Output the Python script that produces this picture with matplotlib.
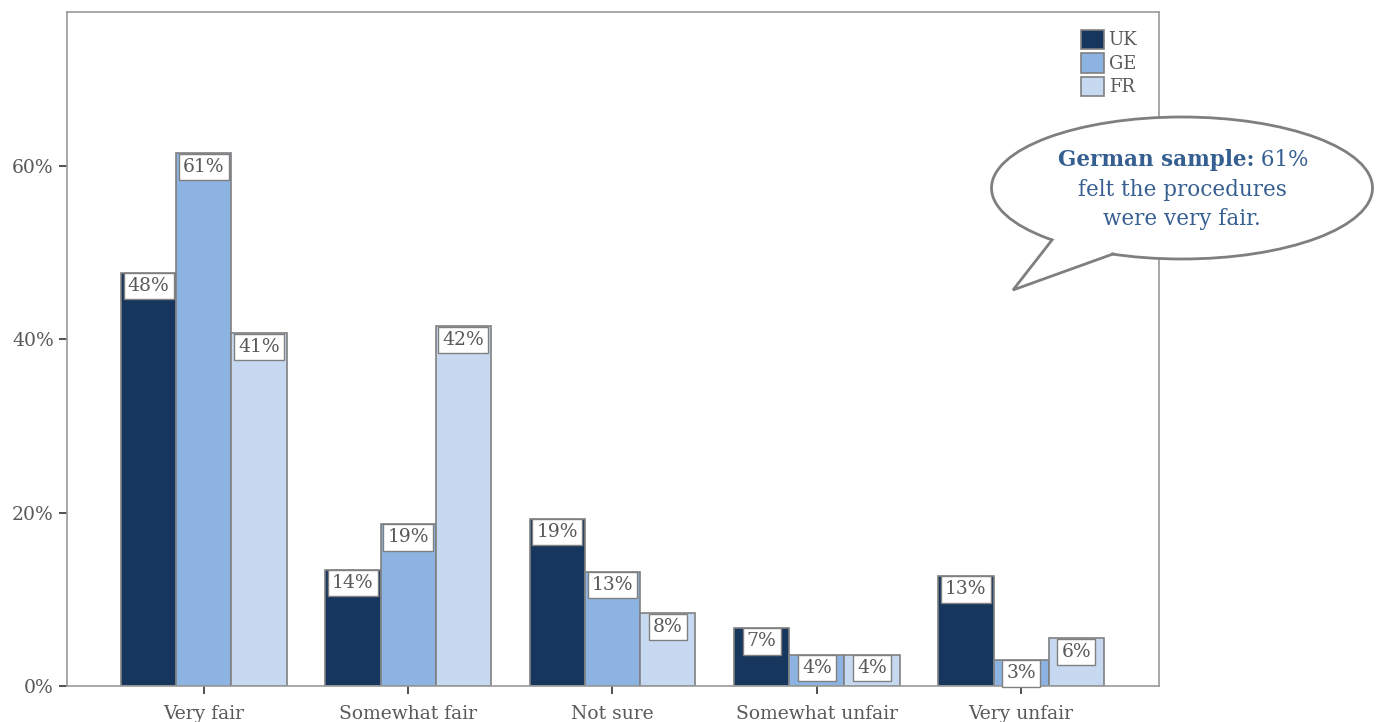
import matplotlib.pyplot as plt
from matplotlib.patches import Ellipse, Polygon
import numpy as np

categories = ["Very fair", "Somewhat fair", "Not sure", "Somewhat unfair", "Very unfair"]
series = ["UK", "GE", "FR"]
uk = [47.7, 13.4, 19.3, 6.7, 12.7]
ge = [61.5, 18.7, 13.2, 3.6, 3.0]
fr = [40.7, 41.5, 8.4, 3.6, 5.5]
uk_lbl = ["48%", "14%", "19%", "7%", "13%"]
ge_lbl = ["61%", "19%", "13%", "4%", "3%"]
fr_lbl = ["41%", "42%", "8%", "4%", "6%"]
colors = ["#17365d", "#8db3e2", "#c6d9f1"]

plt.rcParams['font.family'] = ['DejaVu Serif']
text_grey = "#595959"
edge_grey = "#808080"

fig = plt.figure(figsize=(13.84, 7.22), dpi=100)
ax = fig.add_axes([67/1384, 1 - 686/722, (1159-67)/1384, (686-12)/722])

x = np.arange(len(categories))
w = 0.27
for i, (vals, lbls) in enumerate(zip([uk, ge, fr], [uk_lbl, ge_lbl, fr_lbl])):
    xs = x + (i - 1) * w
    ax.bar(xs, vals, width=w, color=colors[i], edgecolor=edge_grey, linewidth=1.2,
           label=series[i])
    for xi, v, l in zip(xs, vals, lbls):
        ax.annotate(l, (xi, v), xytext=(0, -3.2), textcoords='offset points',
                    ha='center', va='top', fontsize=13.5, color=text_grey,
                    bbox=dict(boxstyle='square,pad=0.22', fc='white', ec=edge_grey, lw=1))

ax.set_xlim(-0.67, 4.675)
ax.set_ylim(0, 77.8)
ax.set_yticks([0, 20, 40, 60])
ax.set_yticklabels(["0%", "20%", "40%", "60%"])
ax.set_xticks(x)
ax.set_xticklabels(categories)
ax.tick_params(axis='both', colors='#333333', labelcolor=text_grey, labelsize=13.5,
               length=6, width=1.2, direction='out')
ax.tick_params(axis='x', pad=8)
for s in ax.spines.values():
    s.set_color('#999999')
    s.set_linewidth(1.2)

leg = ax.legend(loc='upper right', bbox_to_anchor=(0.99, 0.99), frameon=False,
                fontsize=13, handlelength=1.3, handleheight=1.3, handletextpad=0.25,
                labelspacing=0.2, borderaxespad=0.2)
for t in leg.get_texts():
    t.set_color(text_grey)

# callout bubble in pixel coordinates
ov = fig.add_axes([0, 0, 1, 1], facecolor='none')
ov.set_xlim(0, 1384)
ov.set_ylim(722, 0)
ov.axis('off')
bub = Ellipse((1182, 188), 381, 142, fc='white', ec='#7f7f7f', lw=2, zorder=2)
ov.add_patch(bub)
ov.add_patch(Polygon([[1052, 240], [1013, 290], [1113, 254], [1085, 232]], closed=True,
                     fc='white', ec='none', zorder=3))
ov.plot([1052, 1013, 1113], [240, 290, 254], color='#7f7f7f', lw=2, zorder=4,
        solid_joinstyle='miter')
blue = "#365f91"
ov.text(1254, 160, "German sample:", ha='right', va='center', fontsize=15.5,
        fontweight='bold', color=blue, zorder=5)
ov.text(1254, 160, " 61%", ha='left', va='center', fontsize=15.5, color=blue, zorder=5)
ov.text(1182, 190, "felt the procedures", ha='center', va='center', fontsize=15.5,
        color=blue, zorder=5)
ov.text(1182, 219, "were very fair.", ha='center', va='center', fontsize=15.5,
        color=blue, zorder=5)

fig.savefig("out.png", dpi=100)
